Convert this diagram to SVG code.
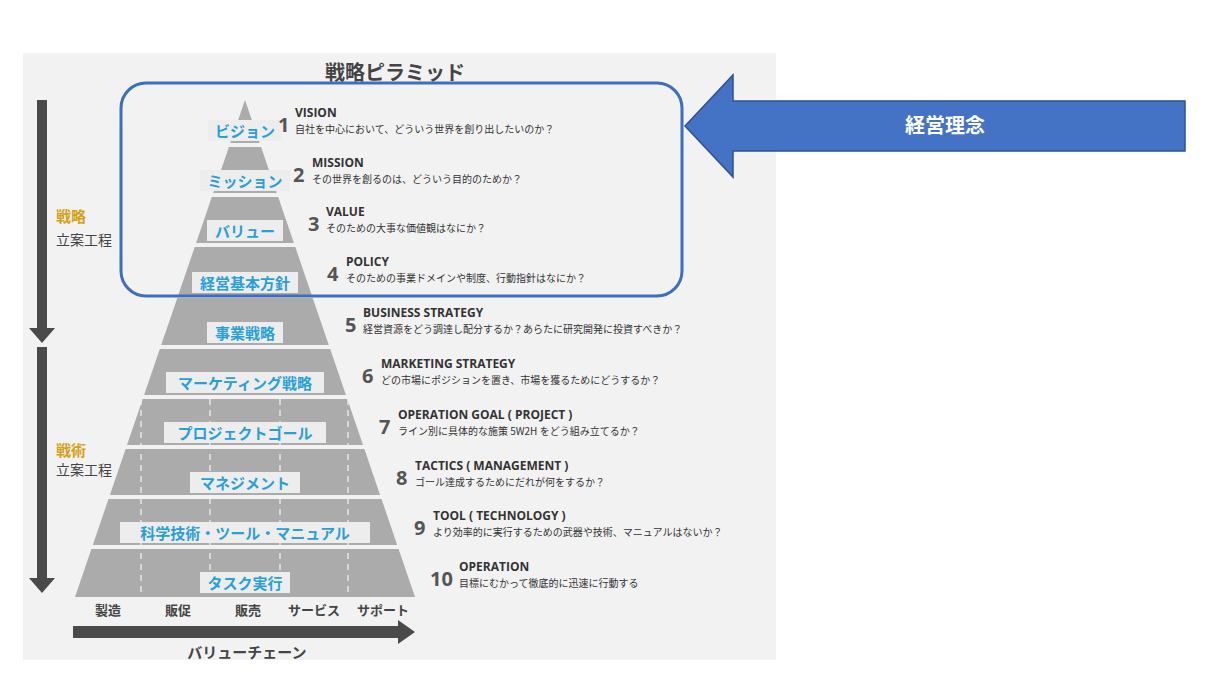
<svg xmlns="http://www.w3.org/2000/svg" width="1220" height="686" viewBox="0 0 1220 686">
<style>
text{font-family:"Noto Sans CJK JP","Noto Sans",sans-serif}
.band{fill:#ababab}
.lb{fill:#ededed}
.lt{fill:#2a9fd6;font-weight:bold;font-size:15px;text-anchor:middle}
.num{fill:#555;font-weight:bold;font-size:20px;font-family:"Open Sans","Noto Sans",sans-serif}
.ti{fill:#333;font-weight:bold;font-size:12px;font-family:"Open Sans","Noto Sans",sans-serif}
.de{fill:#333;font-size:10px}
.dash{stroke:#eee;stroke-width:1.3;stroke-dasharray:6 5}
.vc{fill:#444;font-weight:bold;font-size:13px;text-anchor:middle}
</style>
<rect x="0" y="0" width="1220" height="686" fill="#fff"/>
<rect x="23" y="53" width="753" height="607" fill="#f2f2f2"/>
<text x="395" y="80" font-size="20" font-weight="bold" fill="#444" text-anchor="middle">戦略ピラミッド</text>
<g id="pyramid">
<polygon class="band" points="245,100 259.7,143 230.3,143"/>
<polygon class="band" points="228.9,147 261.1,147 276.8,193 213.2,193"/>
<polygon class="band" points="211.8,197 278.2,197 293.9,243 196.1,243"/>
<polygon class="band" points="194.7,247 295.3,247 311.7,295 178.3,295"/>
<polygon class="band" points="177.3,298 312.7,298 328.8,345 161.2,345"/>
<polygon class="band" points="159.8,349 330.2,349 345.9,395 144.1,395"/>
<polygon class="band" points="142.7,399 347.3,399 363,445 127,445"/>
<polygon class="band" points="125.6,449 364.4,449 380.1,495 109.9,495"/>
<polygon class="band" points="108.5,499 381.5,499 397.2,545 92.8,545"/>
<polygon class="band" points="91.4,549 398.6,549 415,597 75,597"/>
<line class="dash" x1="141" y1="399" x2="141" y2="597"/>
<line class="dash" x1="210" y1="399" x2="210" y2="597"/>
<line class="dash" x1="280" y1="399" x2="280" y2="597"/>
<line class="dash" x1="348" y1="399" x2="348" y2="597"/>
</g>
<g id="labels">
<rect class="lb" x="208" y="120" width="74" height="21"/><text class="lt" x="245" y="137">ビジョン</text>
<rect class="lb" x="200" y="170" width="90" height="21"/><text class="lt" x="245" y="187">ミッション</text>
<rect class="lb" x="207" y="220" width="76" height="21"/><text class="lt" x="245" y="237">バリュー</text>
<rect class="lb" x="192" y="272" width="106" height="21"/><text class="lt" x="245" y="289">経営基本方針</text>
<rect class="lb" x="207" y="322" width="76" height="21"/><text class="lt" x="245" y="339">事業戦略</text>
<rect class="lb" x="166" y="372" width="158" height="21"/><text class="lt" x="245" y="389">マーケティング戦略</text>
<rect class="lb" x="164" y="422" width="162" height="21"/><text class="lt" x="245" y="439">プロジェクトゴール</text>
<rect class="lb" x="190" y="472" width="110" height="21"/><text class="lt" x="245" y="489">マネジメント</text>
<rect class="lb" x="120" y="522" width="250" height="21"/><text class="lt" x="245" y="539">科学技術・ツール・マニュアル</text>
<rect class="lb" x="200" y="572" width="90" height="21"/><text class="lt" x="245" y="589">タスク実行</text>
</g>
<g id="descriptions">
<text class="num" x="278" y="132">1</text><text class="ti" x="295" y="117">VISION</text><text class="de" x="295" y="133">自社を中心において、どういう世界を創り出したいのか？</text>
<text class="num" x="293" y="182">2</text><text class="ti" x="312" y="167">MISSION</text><text class="de" x="312" y="183">その世界を創るのは、どういう目的のためか？</text>
<text class="num" x="308" y="231">3</text><text class="ti" x="326" y="216">VALUE</text><text class="de" x="326" y="232">そのための大事な価値観はなにか？</text>
<text class="num" x="327" y="281">4</text><text class="ti" x="346" y="266">POLICY</text><text class="de" x="346" y="282">そのための事業ドメインや制度、行動指針はなにか？</text>
<text class="num" x="345" y="332">5</text><text class="ti" x="363" y="317">BUSINESS STRATEGY</text><text class="de" x="363" y="333">経営資源をどう調達し配分するか？あらたに研究開発に投資すべきか？</text>
<text class="num" x="362" y="383">6</text><text class="ti" x="381" y="368">MARKETING STRATEGY</text><text class="de" x="381" y="384">どの市場にポジションを置き、市場を獲るためにどうするか？</text>
<text class="num" x="379" y="434">7</text><text class="ti" x="398" y="419">OPERATION GOAL ( PROJECT )</text><text class="de" x="398" y="435">ライン別に具体的な施策 5W2H をどう組み立てるか？</text>
<text class="num" x="396" y="485">8</text><text class="ti" x="415" y="470">TACTICS ( MANAGEMENT )</text><text class="de" x="415" y="486">ゴール達成するためにだれが何をするか？</text>
<text class="num" x="414" y="535">9</text><text class="ti" x="433" y="520">TOOL ( TECHNOLOGY )</text><text class="de" x="433" y="536">より効率的に実行するための武器や技術、マニュアルはないか？</text>
<text class="num" x="430" y="586">10</text><text class="ti" x="459" y="571">OPERATION</text><text class="de" x="459" y="587">目標にむかって徹底的に迅速に行動する</text>
</g>
<g id="side">
<text x="56" y="222" font-size="15" font-weight="bold" fill="#d4a017">戦略</text>
<text x="56" y="245" font-size="14" fill="#444">立案工程</text>
<text x="56" y="456" font-size="15" font-weight="bold" fill="#d4a017">戦術</text>
<text x="56" y="475" font-size="14" fill="#444">立案工程</text>
<text class="vc" x="108" y="615">製造</text>
<text class="vc" x="178" y="615">販促</text>
<text class="vc" x="248" y="615">販売</text>
<text class="vc" x="314" y="615">サービス</text>
<text class="vc" x="383" y="615">サポート</text>
<text x="247" y="658" font-size="15" font-weight="bold" fill="#444" text-anchor="middle">バリューチェーン</text>
</g>
<g id="connectors">
<polygon fill="#4a4a4a" points="37,100 47,100 47,328 55,328 42,343 29,328 37,328"/>
<polygon fill="#4a4a4a" points="37,347 47,347 47,578 55,578 42,593 29,578 37,578"/>
<polygon fill="#4a4a4a" points="73,626 398,626 398,620 415,632 398,644 398,638 73,638"/>
</g>
<g id="frame">
<rect x="121" y="83" width="561" height="213" rx="25" fill="none" stroke="#3f6fba" stroke-width="3"/>
</g>
<g id="keiei">
<polygon fill="#4472c4" stroke="#2f528f" stroke-width="1.5" points="685,126 733,75 733,101 1185,101 1185,151 733,151 733,177"/>
<text x="945" y="133" font-size="20" font-weight="bold" fill="#fff" text-anchor="middle">経営理念</text>
</g>
</svg>
